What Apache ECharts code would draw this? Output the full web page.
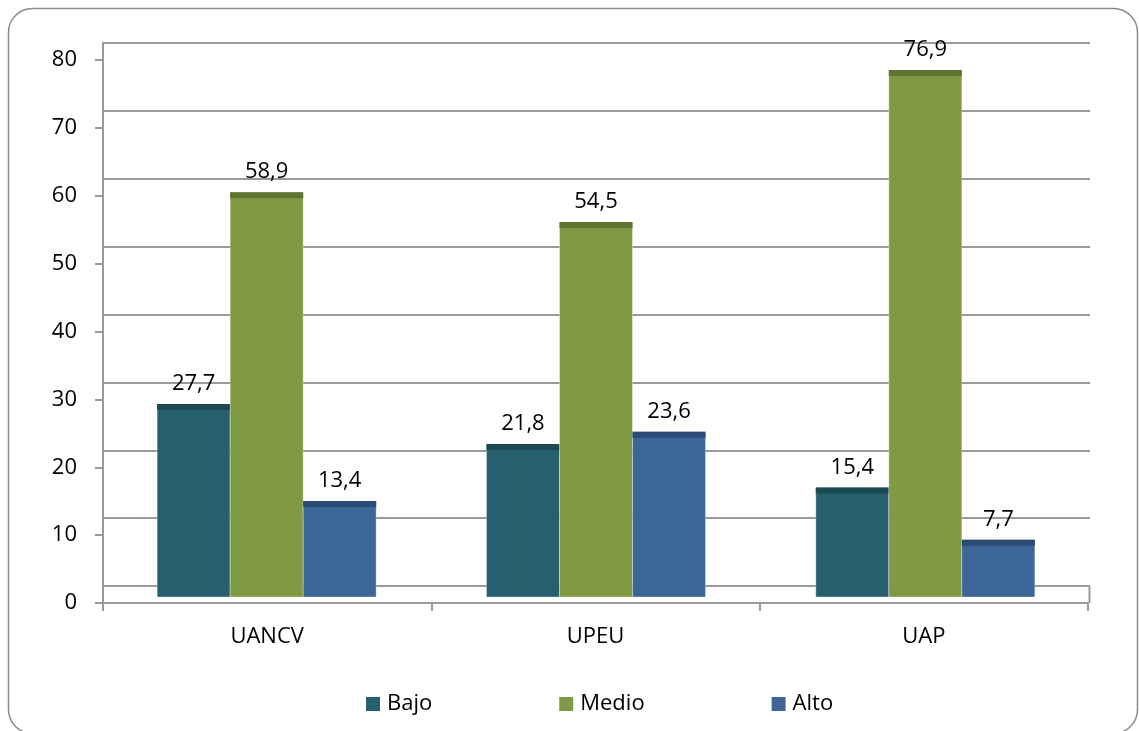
<!DOCTYPE html>
<html>
<head>
<meta charset="utf-8">
<script src="https://cdn.jsdelivr.net/npm/echarts@6/dist/echarts.min.js"></script>
<style>html,body{margin:0;padding:0;background:#fff}#c{width:1139px;height:731px}</style>
</head>
<body>
<div id="c"></div>
<script>
var categories = ['UANCV', 'UPEU', 'UAP'];
var seriesNames = ['Bajo', 'Medio', 'Alto'];
var bajo = [27.7, 21.8, 15.4];
var medio = [58.9, 54.5, 76.9];
var alto = [13.4, 23.6, 7.7];
var yTicks = [0, 10, 20, 30, 40, 50, 60, 70, 80];

var faceColors = ['#26606E', '#7F9A43', '#3D6698'];
var capColors = ['#1C4853', '#5F7431', '#2C4B74'];
var FONT = '"Open Sans", sans-serif';

function fmt(v) { return String(v).replace('.', ','); }

function makeRender(idx) {
  return function (params, api) {
    var v = api.value(1);
    var c = api.coord([api.value(0), v]);
    var z = api.coord([api.value(0), 0]);
    var band = api.size([1, 0])[0];
    var bw = band * 0.2217;
    var cx = c[0] + (idx - 1) * bw;
    var x = cx - bw / 2;
    return {
      type: 'group',
      children: [
        { type: 'rect', shape: { x: x, y: c[1], width: bw, height: z[1] + 5 - c[1] },
          style: { fill: faceColors[idx], stroke: 'rgba(255,255,255,0.35)', lineWidth: 1 } },
        { type: 'rect', shape: { x: x, y: c[1], width: bw, height: 6 },
          style: { fill: capColors[idx] } },
        { type: 'text', x: cx, y: c[1] - 9,
          style: { text: fmt(v), textAlign: 'center', textVerticalAlign: 'bottom',
                   font: '22px ' + FONT, fill: '#000' } }
      ]
    };
  };
}

var dataSets = [bajo, medio, alto];
var series = dataSets.map(function (arr, idx) {
  return {
    type: 'custom',
    name: seriesNames[idx],
    xAxisIndex: 2, yAxisIndex: 2,
    itemStyle: { color: faceColors[idx] },
    renderItem: makeRender(idx),
    data: arr.map(function (v, i) { return [i, v]; }),
    z: 5
  };
});

var chart = echarts.init(document.getElementById('c'), null, { renderer: 'canvas' });
var gridLine = { show: true, lineStyle: { color: '#999', width: 2 } };
chart.setOption({
  animation: false,
  textStyle: { fontFamily: FONT },
  grid: [
    { left: 103, top: 60, width: 985, height: 543 },   // front axis
    { left: 103, top: 43, width: 987, height: 543 },   // back wall
    { left: 102, top: 49, width: 988, height: 543 }    // bars
  ],
  xAxis: [
    { gridIndex: 0, type: 'category', data: categories,
      axisLine: { show: true, lineStyle: { color: '#999', width: 2 } },
      axisTick: { show: true, length: 8, alignWithLabel: false, lineStyle: { color: '#999', width: 2 } },
      axisLabel: { color: '#000', fontSize: 22, margin: 23, fontFamily: FONT },
      splitLine: { show: false } },
    { gridIndex: 1, type: 'category', data: categories, show: false },
    { gridIndex: 2, type: 'category', data: categories, show: false }
  ],
  yAxis: [
    { gridIndex: 0, type: 'value', min: 0, max: 80, interval: 10,
      axisLine: { show: true, lineStyle: { color: '#999', width: 2 } },
      axisTick: { show: true, length: 8, lineStyle: { color: '#999', width: 2 } },
      axisLabel: { color: '#000', fontSize: 22, margin: 26, fontFamily: FONT,
        formatter: function (v) { return yTicks.indexOf(v) >= 0 ? String(v) : ''; } },
      splitLine: { show: false } },
    { gridIndex: 1, type: 'value', min: 0, max: 80, interval: 10,
      axisLine: { show: true, lineStyle: { color: '#999', width: 2 } },
      axisTick: { show: false }, axisLabel: { show: false },
      splitLine: gridLine },
    { gridIndex: 2, type: 'value', min: 0, max: 80, interval: 10, show: false,
      splitLine: { show: false } }
  ],
  legend: {
    left: 361, top: 688,
    icon: 'rect', itemWidth: 14, itemHeight: 14, itemGap: 127,
    textStyle: { color: '#000', fontSize: 22, fontFamily: FONT, padding: [0, 0, 0, 2] },
    data: seriesNames
  },
  graphic: [
    { type: 'rect', shape: { x: 8.5, y: 8.5, width: 1129, height: 725, r: 24 },
      style: { fill: 'none', stroke: '#8a8a8a', lineWidth: 1.5 }, silent: true, z: -10 },
    { type: 'line', shape: { x1: 1089.5, y1: 586, x2: 1089.5, y2: 603 },
      style: { stroke: '#999', lineWidth: 2 }, silent: true }
  ],
  series: series
});
</script>
</body>
</html>
